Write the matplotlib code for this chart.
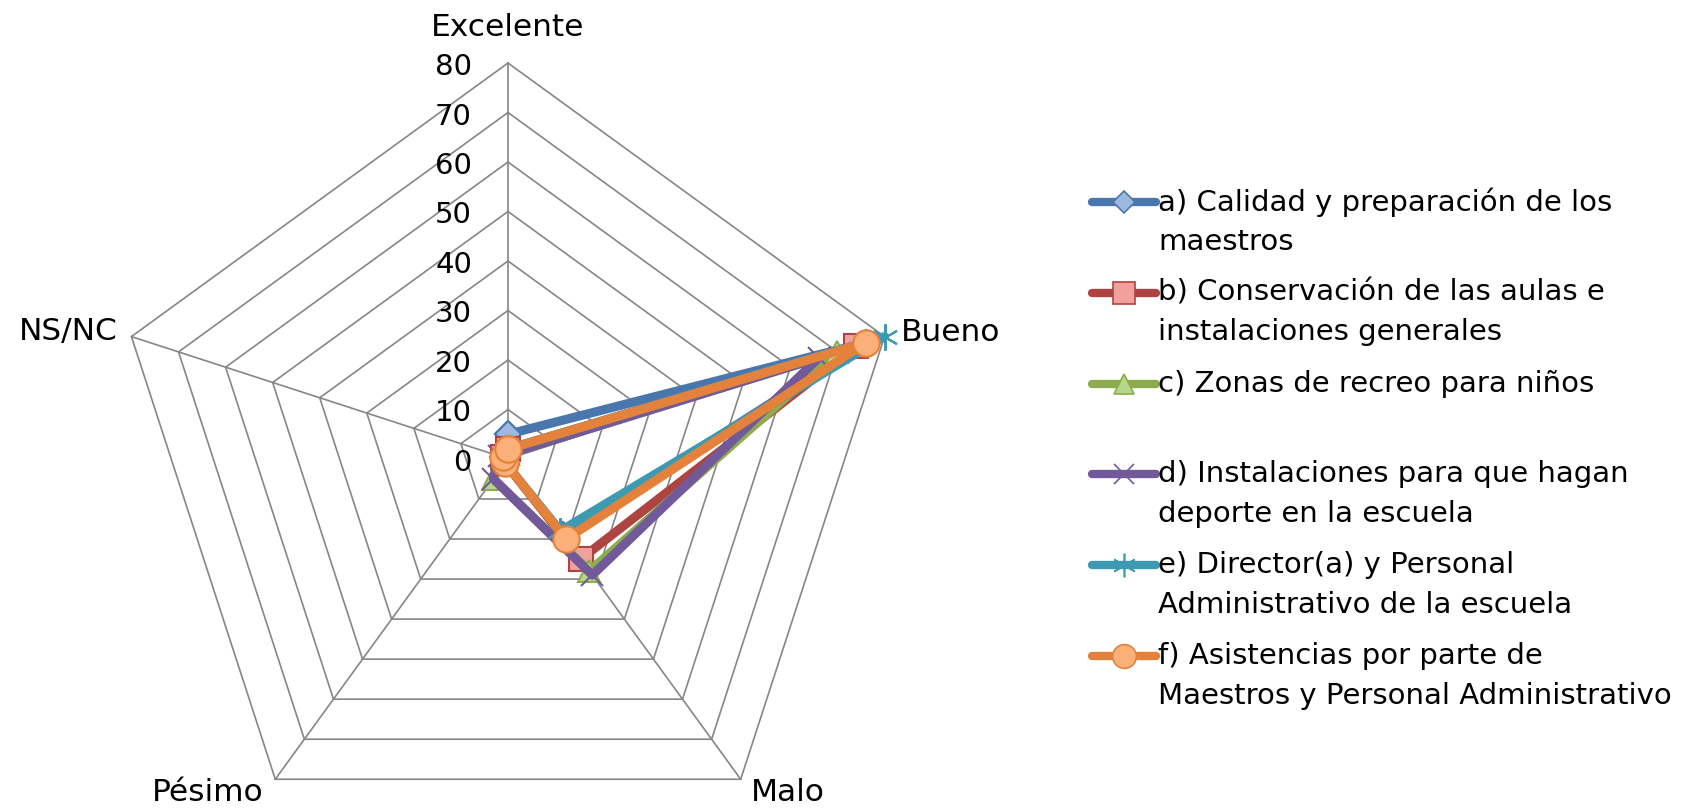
import numpy as np
import matplotlib.pyplot as plt
from matplotlib.lines import Line2D

plt.rcParams['font.family'] = ['DejaVu Sans']

categories = ['Excelente', 'Bueno', 'Malo', 'Pésimo', 'NS/NC']
labels = [
    'a) Calidad y preparación de los\nmaestros',
    'b) Conservación de las aulas e\ninstalaciones generales',
    'c) Zonas de recreo para niños',
    'd) Instalaciones para que hagan\ndeporte en la escuela',
    'e) Director(a) y Personal\nAdministrativo de la escuela',
    'f) Asistencias por parte de\nMaestros y Personal Administrativo',
]
calidad = [5, 76, 19, 1, 1]
conservacion = [2, 74, 25, 1, 1]
recreo = [1, 70, 28, 5, 1]
deporte = [1, 66, 29, 5, 2]
director = [2, 80, 18, 1, 1]
asistencias = [2, 76, 20, 1, 1]
series = [calidad, conservacion, recreo, deporte, director, asistencias]
ticks = [0, 10, 20, 30, 40, 50, 60, 70, 80]

# line colour, marker, marker face, marker size
styles = [
    ('#4A76AE', 'D', '#9DB9DF', 13),
    ('#AE4442', 's', '#F2A09E', 17),
    ('#8CAC4E', '^', '#B6D689', 16),
    ('#72599A', 'x', '#72599A', 16),
    ('#3D9AB3', (6, 2, 0), '#3D9AB3', 19),
    ('#E4823B', 'o', '#FBB07A', 19),
]

fig = plt.figure(figsize=(16.86, 8.08), dpi=100)
ax = fig.add_axes([0.0664, -0.058, 0.4698, 0.980], polar=True)
ax.set_theta_offset(np.pi / 2)
ax.set_theta_direction(-1)
ax.set_ylim(0, 80)
ax.set_axis_off()

n = len(categories)
angles = np.linspace(0, 2 * np.pi, n, endpoint=False)
closed = np.append(angles, angles[0])

grid_col = '#868686'
for r in ticks[1:]:
    ax.plot(closed, [r] * (n + 1), color=grid_col, lw=1.2, zorder=1, clip_on=False)
for t in angles:
    ax.plot([t, t], [0, 80], color=grid_col, lw=1.2, zorder=1, clip_on=False)

for r in ticks:
    ax.annotate(str(r), xy=(0, r), xytext=(-36, -4), textcoords='offset pixels',
                ha='right', va='center', fontsize=21)

offsets = [((0, 36), 'center'), ((16, 4), 'left'), ((10, -13), 'left'),
           ((-12, -13), 'right'), ((-14, 5), 'right')]
for cat, t, (off, ha) in zip(categories, angles, offsets):
    ax.annotate(cat, xy=(t, 80), xytext=off, textcoords='offset pixels',
                ha=ha, va='center', fontsize=22.5)

for vals, (col, mk, mfc, ms) in zip(series, styles):
    v = vals + vals[:1]
    ax.plot(closed, v, color=col, lw=6.5, solid_joinstyle='round',
            marker=mk, markersize=ms, markerfacecolor=mfc, markeredgecolor=col,
            markeredgewidth=1.5, clip_on=False, zorder=3)

# legend drawn by hand, handle lined up with the first text line
W, H = fig.get_size_inches() * fig.dpi
for i, (lab, (col, mk, mfc, ms)) in enumerate(zip(labels, styles)):
    y = 1 - (202 + 90.8 * i) / H
    fig.add_artist(Line2D([1092 / W, 1156 / W], [y, y], color=col, lw=6,
                          solid_capstyle='round'))
    fig.add_artist(Line2D([1124 / W], [y], marker=mk, markersize=ms * 0.9,
                          markerfacecolor=mfc, markeredgecolor=col, markeredgewidth=1.2))
    for k, line in enumerate(lab.split('\n')):
        fig.text(1158 / W, y - 39.5 * k / H, line, ha='left', va='center', fontsize=21)

fig.savefig('out.png', dpi=100)
